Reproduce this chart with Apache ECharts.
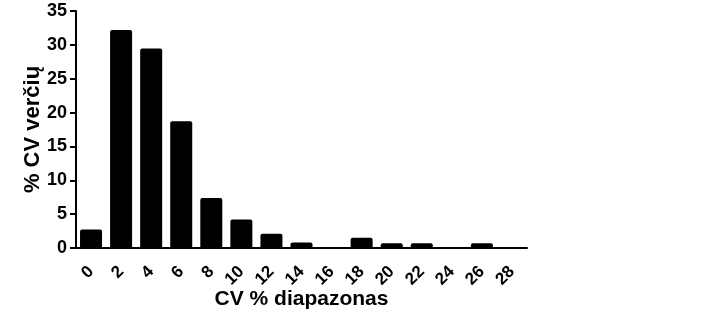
<!DOCTYPE html>
<html>
<head>
<meta charset="utf-8">
<script src="https://cdn.jsdelivr.net/npm/echarts@6/dist/echarts.min.js"></script>
<style>
  html, body { margin: 0; padding: 0; background: #fff; }
  #chart { width: 722px; height: 315px; }
</style>
</head>
<body>
<div id="chart"></div>
<script>
// CV % ranges (x axis categories)
const categories = ['0', '2', '4', '6', '8', '10', '12', '14', '16', '18', '20', '22', '24', '26', '28'];
// % of CV values in each range
const values = [2.75, 32.2, 29.45, 18.7, 7.4, 4.2, 2.1, 0.8, 0, 1.5, 0.7, 0.7, 0, 0.7, 0];
const yTicks = { min: 0, max: 35, interval: 5 };

const font = 'Liberation Sans, Arial, sans-serif';
const chart = echarts.init(document.getElementById('chart'));

const option = {
  backgroundColor: '#fff',
  animation: false,
  grid: {
    left: 76,
    right: 195,
    top: 11,
    bottom: 66,
  },
  xAxis: {
    type: 'category',
    data: categories,
    name: 'CV % diapazonas',
    nameLocation: 'middle',
    nameMoveOverlap: false, // keep gap measured from the axis line
    nameGap: 41,
    nameTextStyle: { color: '#000', fontFamily: font, fontWeight: 'bold', fontSize: 21 },
    axisLine: { lineStyle: { color: '#000', width: 2 } },
    axisTick: { alignWithLabel: true, interval: 0, length: 6, lineStyle: { color: '#000', width: 2 } },
    axisLabel: {
      interval: 0, // show every label
      hideOverlap: false,
      rotate: 45,
      margin: 21,
      color: '#000',
      fontFamily: font,
      fontWeight: 'bold',
      fontSize: 17,
    },
  },
  yAxis: {
    type: 'value',
    min: yTicks.min,
    max: yTicks.max,
    interval: yTicks.interval,
    name: '% CV verčių',
    nameLocation: 'middle',
    nameMoveOverlap: false,
    nameGap: 32,
    nameTextStyle: { color: '#000', fontFamily: font, fontWeight: 'bold', fontSize: 22 },
    splitLine: { show: false },
    axisLine: { show: true, lineStyle: { color: '#000', width: 2 } },
    axisTick: { show: true, length: 6, lineStyle: { color: '#000', width: 2 } },
    axisLabel: {
      margin: 9,
      color: '#000',
      fontFamily: font,
      fontWeight: 'bold',
      fontSize: 18,
    },
  },
  series: [
    {
      type: 'bar',
      data: values,
      barWidth: 22,
      itemStyle: { color: '#000', borderRadius: [2, 2, 0, 0] },
    },
  ],
};
chart.setOption(option);
</script>
</body>
</html>
